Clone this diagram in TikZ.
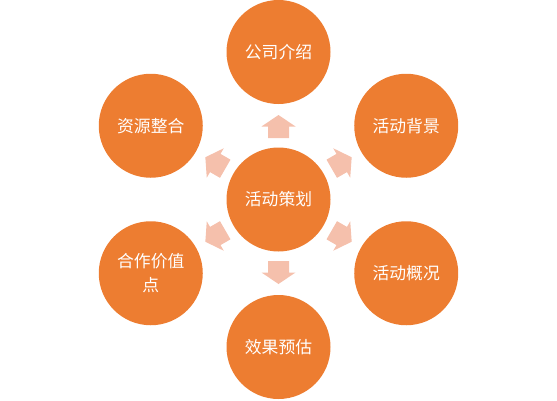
\documentclass[tikz,border=0pt]{standalone}
\usepackage{fontspec}
\usetikzlibrary{calc}
\newfontfamily\cjk{Noto Sans CJK SC}
\definecolor{orangeC}{HTML}{ED7D31}
\definecolor{arrowC}{HTML}{F5C0AC}
\begin{document}
\begin{tikzpicture}[x=1pt,y=1pt,
  bubble/.style={circle, fill=orangeC, minimum size=104pt, inner sep=0pt, text=white, font=\cjk\fontsize{16.8}{24}\selectfont, align=center},
  blockarrow/.style={fill=arrowC, draw=none}]
\useasboundingbox (0,0) rectangle (557,400);
\node[bubble] (c) at (278.5,200.5) {活动策划};
\node[bubble] (n1) at ($(278.5,200.5)+(90:147.5)$) {公司介绍};
\node[bubble] (n2) at ($(278.5,200.5)+(30:147.5)$) {活动背景};
\node[bubble] (n3) at ($(278.5,200.5)+(-30:147.5)$) {活动概况};
\node[bubble] (n4) at ($(278.5,200.5)+(-90:147.5)$) {效果预估};
\node[bubble] (n5) at ($(278.5,200.5)+(210:147.5)$) {合作价值\\点};
\node[bubble] (n6) at ($(278.5,200.5)+(150:147.5)$) {资源整合};
\foreach \a in {90,30,-30,-90,210,150}{
  \begin{scope}[shift={(c.center)}, rotate=\a]
    \fill[blockarrow] (61.5,-10.5) -- (73,-10.5) -- (73,-17) -- (84.5,0) -- (73,17) -- (73,10.5) -- (61.5,10.5) -- cycle;
  \end{scope}
}
\end{tikzpicture}
\end{document}
